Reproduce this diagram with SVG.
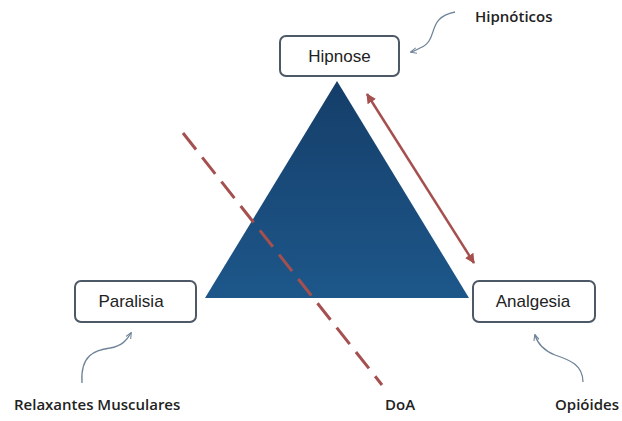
<svg xmlns="http://www.w3.org/2000/svg" width="622" height="421" viewBox="0 0 622 421">
  <style>
    .box { fill: #ffffff; stroke: #4d5966; stroke-width: 2; }
    .boxlabel { font-family: "Liberation Sans", "Open Sans", sans-serif; font-size: 17px; fill: #222; text-anchor: middle; }
    .note { font-family: "Open Sans", "Liberation Sans", sans-serif; font-size: 15px; font-weight: 600; fill: #222; }
    .curl { fill: none; stroke: #6f8499; stroke-width: 1.3; }
    .link { fill: none; stroke: #a5504f; stroke-width: 2.5; }
  </style>
  <defs>
    <linearGradient id="triFill" x1="0" y1="0" x2="0" y2="1">
      <stop offset="0" stop-color="#153e69"/>
      <stop offset="1" stop-color="#1d578a"/>
    </linearGradient>
    <marker id="curlHead" viewBox="0 0 10 10" refX="8" refY="5" markerWidth="7" markerHeight="7" orient="auto-start-reverse" markerUnits="userSpaceOnUse">
      <path d="M0,1 L9,5 L0,9" fill="none" stroke="#6f8499" stroke-width="1.5"/>
    </marker>
    <marker id="redHead" viewBox="0 0 10 10" refX="9" refY="5" markerWidth="10" markerHeight="10" orient="auto-start-reverse" markerUnits="userSpaceOnUse">
      <path d="M0,0 L10,5 L0,10 Z" fill="#a5504f"/>
    </marker>
  </defs>

  <rect width="622" height="421" fill="#ffffff"/>

  <!-- central triangle -->
  <g id="triangle">
    <polygon points="337,81 205,298 469,298" fill="url(#triFill)"/>
  </g>

  <!-- connectors -->
  <g id="connectors">
    <line class="link" x1="367" y1="94" x2="474" y2="263" marker-start="url(#redHead)" marker-end="url(#redHead)"/>
    <line x1="183" y1="133" x2="382" y2="385" stroke="#a5504f" stroke-width="3" stroke-dasharray="21,10"/>
    <path class="curl" d="M455,12 C425,18 440,40 420,48 Q415,51 411,52" marker-end="url(#curlHead)"/>
    <path class="curl" d="M82,383 C80,355 95,350 110,348 C122,346 127,340 131,333" marker-end="url(#curlHead)"/>
    <path class="curl" d="M583,382 C583,365 570,360 555,355 C545,351 538,345 535,335" marker-end="url(#curlHead)"/>
  </g>

  <g id="hipnose">
    <rect class="box" x="280" y="36" width="119" height="40" rx="6"/>
    <text class="boxlabel" x="339.5" y="62">Hipnose</text>
  </g>
  <g id="paralisia">
    <rect class="box" x="75" y="281" width="121" height="41" rx="6"/>
    <text class="boxlabel" x="131" y="307">Paralisia</text>
  </g>
  <g id="analgesia">
    <rect class="box" x="473" y="281" width="122" height="41" rx="6"/>
    <text class="boxlabel" x="533" y="307">Analgesia</text>
  </g>

  <g id="hipnoticos">
    <text class="note" x="475" y="22">Hipnóticos</text>
  </g>
  <g id="relaxantes">
    <text class="note" x="14" y="410">Relaxantes Musculares</text>
  </g>
  <g id="doa">
    <text class="note" x="385" y="410">DoA</text>
  </g>
  <g id="opioides">
    <text class="note" x="555" y="410">Opióides</text>
  </g>
</svg>
